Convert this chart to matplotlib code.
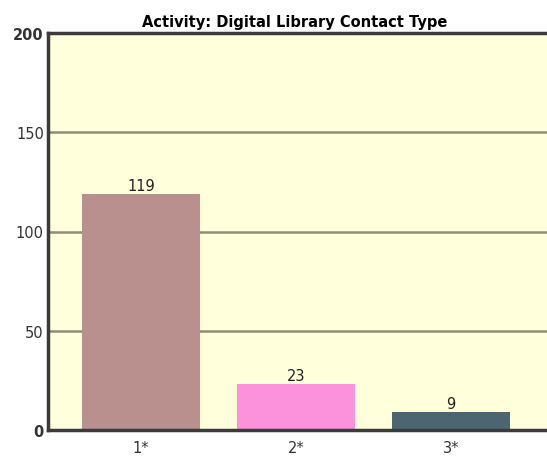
import matplotlib
matplotlib.use('Agg')
import matplotlib.pyplot as plt

cats = ['1*', '2*', '3*']
vals = [119, 23, 9]
colors = ['#BA908E', '#FC92DC', '#4B6670']
yticks = [0, 50, 100, 150, 200]

plt.rcParams['font.family'] = ['DejaVu Sans']

fig = plt.figure(figsize=(5.47, 4.60), dpi=100)
# right edge goes past the image, as in the original
ax = fig.add_axes([48/547, 1 - 431/460, 510/547, 397/460])
ax.set_facecolor('#FFFFDC')

for v in yticks[1:-1]:
    ax.axhline(v, color='#8E8E72', linewidth=1.8, zorder=1)

bars = ax.bar(range(len(cats)), vals, width=0.76, color=colors, zorder=2)
for i, v in enumerate(vals):
    ax.text(i, v + 0.5, str(v), ha='center', va='bottom', fontsize=10.5, color='#222222')

ax.set_xlim(-0.6, 2.69)
ax.set_ylim(0, 200)
ax.set_xticks(range(len(cats)))
ax.set_xticklabels(cats, fontsize=10.5)
ax.set_yticks(yticks)
ax.set_yticklabels([str(t) for t in yticks], fontsize=10.5)
for lbl in ax.get_yticklabels():
    if lbl.get_text() in ('0', '200'):
        lbl.set_fontweight('bold')
ax.tick_params(axis='both', length=0, pad=3, colors='#333333')
ax.tick_params(axis='x', pad=7)

for s in ['left', 'top', 'bottom', 'right']:
    ax.spines[s].set_color('#3A3A3A')
    ax.spines[s].set_linewidth(2.5)

ax.set_title('Activity: Digital Library Contact Type', fontsize=10.5,
             fontweight='bold', pad=5, x=(295 - 48) / 510)

fig.savefig('out.png', dpi=100)
